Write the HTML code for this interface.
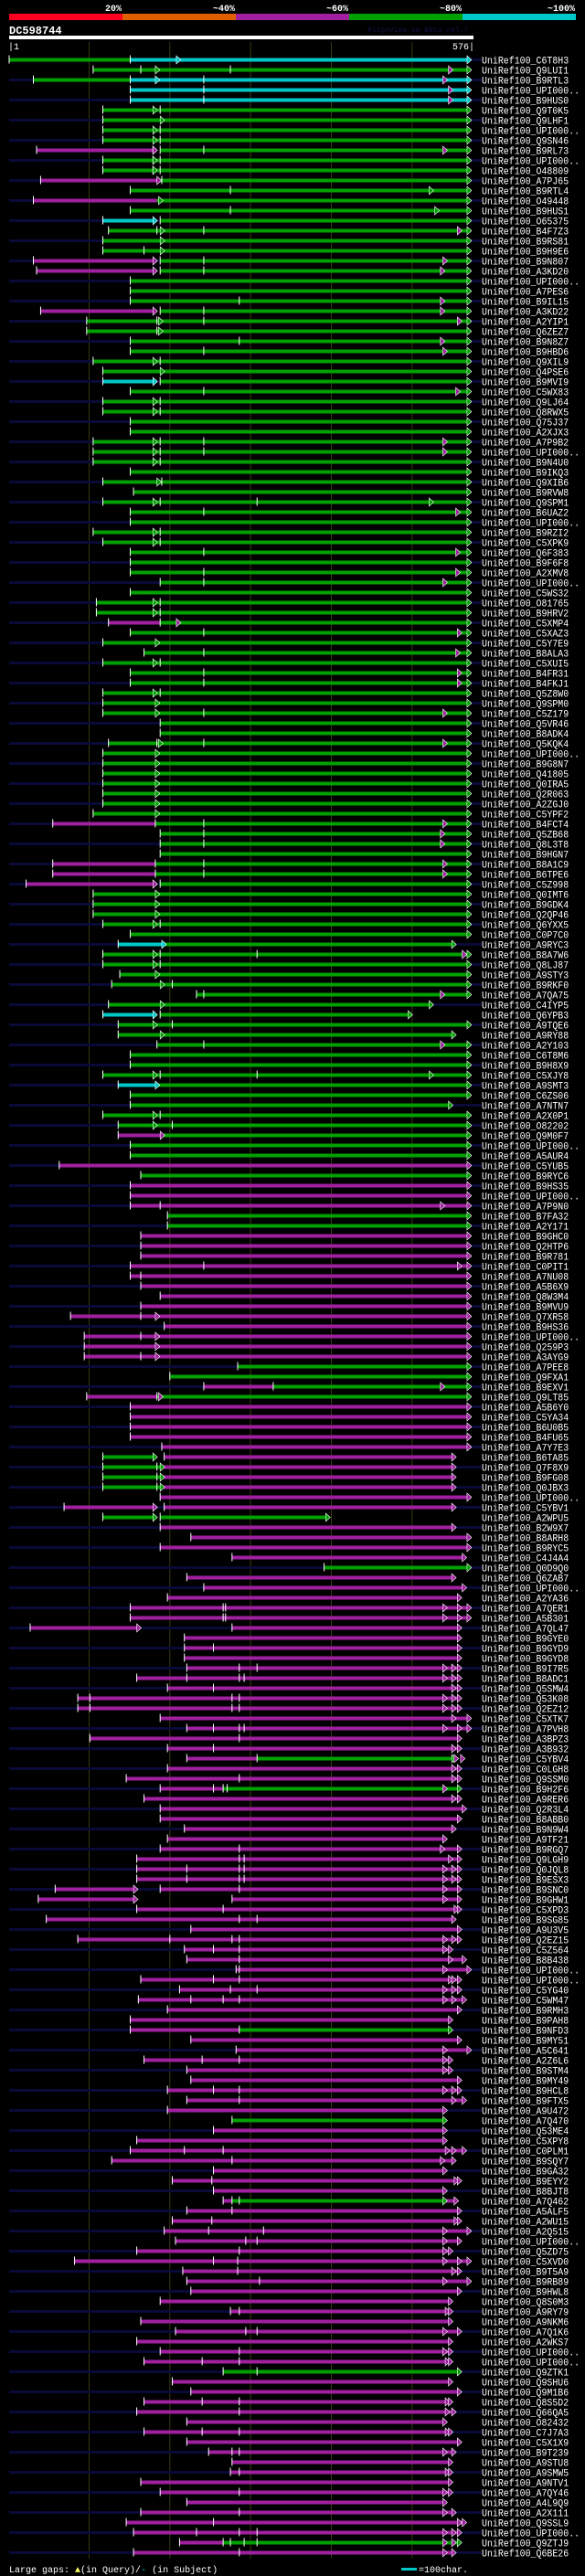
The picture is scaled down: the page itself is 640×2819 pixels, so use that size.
<!DOCTYPE html>
<html><head><meta charset="utf-8">
<style>
html,body{margin:0;padding:0;background:#000;}
svg{display:block;}
text{font-family:"Liberation Mono","DejaVu Sans Mono",monospace;}
</style></head>
<body>
<svg id="chart" width="640" height="2819" viewBox="0 0 640 2819" xmlns="http://www.w3.org/2000/svg">
<rect x="0" y="0" width="640" height="2819" fill="#000"/>
<g>
<rect x="10" y="15" width="124" height="7" fill="#ff0020"/>
<rect x="134" y="15" width="124" height="7" fill="#e06000"/>
<rect x="258" y="15" width="124" height="7" fill="#a020a0"/>
<rect x="382" y="15" width="124" height="7" fill="#00a000"/>
<rect x="506" y="15" width="124" height="7" fill="#00c8c8"/>
<text x="133" y="12" fill="#fff" font-size="10" font-weight="bold" text-anchor="end">20%</text>
<text x="257" y="12" fill="#fff" font-size="10" font-weight="bold" text-anchor="end">~40%</text>
<text x="381" y="12" fill="#fff" font-size="10" font-weight="bold" text-anchor="end">~60%</text>
<text x="505" y="12" fill="#fff" font-size="10" font-weight="bold" text-anchor="end">~80%</text>
<text x="629" y="12" fill="#fff" font-size="10" font-weight="bold" text-anchor="end">~100%</text>
</g>
<text x="10" y="37" fill="#fff" font-size="12" font-weight="bold">DC598744</text>
<text x="402" y="35" fill="#101048" font-size="8">AlignView.pm Beta rel.7</text>
<rect x="10" y="39" width="508" height="4" fill="#fff"/>
<text x="9" y="54" fill="#fff" font-size="10">|1</text>
<text x="519" y="54" fill="#fff" font-size="10" text-anchor="end">576|</text>
<g id="grid"></g>
<g id="rows"></g>
<g>
<text x="10" y="2815" fill="#fff" font-size="10">Large gaps: <tspan fill="#ffff60">▲</tspan>(in Query)/<tspan fill="#00c8c8">-</tspan> (in Subject)</text>
<rect x="439" y="2810" width="17" height="3" fill="#00c8c8"/>
<text x="458" y="2815" fill="#fff" font-size="10">=100char.</text>
</g>
</svg>
<script>
const gridTicks = [100, 200, 300, 400, 500];
const rowNames = ["C6T8H3","Q9LUI1","B9RTL3","UPI000..","B9HUS0","Q9T0K5","Q9LHF1","UPI000..","Q9SN46","B9RL73",
"UPI000..","O48809","A7PJ65","B9RTL4","O49448","B9HUS1","O65375","B4F7Z3","B9RS81","B9H9E6",
"B9N807","A3KD20","UPI000..","A7PES6","B9IL15","A3KD22","A2YIP1","Q6ZEZ7","B9N8Z7","B9HBD6",
"Q9XIL9","Q4PSE6","B9MVI9","C5WX83","Q9LJ64","Q8RWX5","Q75J37","A2XJX3","A7P9B2","UPI000..",
"B9N4U0","B9IKQ3","Q9XIB6","B9RVW8","Q9SPM1","B6UAZ2","UPI000..","B9RZI2","C5XPK9","Q6F383",
"B9F6F8","A2XMV8","UPI000..","C5WS32","O81765","B9HRV2","C5XMP4","C5XAZ3","C5Y7E9","B8ALA3",
"C5XUI5","B4FR31","B4FKJ1","Q5Z8W0","Q9SPM0","C5Z179","Q5VR46","B8ADK4","Q5KQK4","UPI000..",
"B9G8N7","Q41805","Q0IRA5","Q2R063","A2ZGJ0","C5YPF2","B4FCT4","Q5ZB68","Q8L3T8","B9HGN7",
"B8A1C9","B6TPE6","C5Z998","Q0IMT6","B9GDK4","Q2QP46","Q6YXX5","C0P7C0","A9RYC3","B8A7W6",
"Q8LJ87","A9STY3","B9RKF0","A7QA75","C4IYP5","Q6YPB3","A9TQE6","A9RY88","A2Y103","C6T8M6",
"B9H8X9","C5XJY8","A9SMT3","C6ZS06","A7NTN7","A2X0P1","O82202","Q9M0F7","UPI000..","A5AUR4",
"C5YUB5","B9RYC6","B9HS35","UPI000..","A7P9N0","B7FA32","A2Y171","B9GHC0","Q2HTP6","B9R781",
"C0PIT1","A7NU08","A5B6X9","Q8W3M4","B9MVU9","Q7XR58","B9HS36","UPI000..","Q259P3","A3AYG9",
"A7PEE8","Q9FXA1","B9EXV1","Q9LT85","A5B6Y0","C5YA34","B6U0B5","B4FU65","A7Y7E3","B6TA85",
"Q7F8X9","B9FG08","Q0JBX3","UPI000..","C5YBV1","A2WPU5","B2W9X7","B8ARH8","B9RYC5","C4J4A4",
"Q0D9Q0","Q6ZAB7","UPI000..","A2YA36","A7QER1","A5B301","A7QL47","B9GYE0","B9GYD9","B9GYD8",
"B9I7R5","B8ADC1","Q5SMW4","Q53K08","Q2EZ12","C5XTK7","A7PVH8","A3BPZ3","A3B932","C5YBV4",
"C0LGH8","Q9SSM0","B9H2F6","A9RER6","Q2R3L4","B8ABB0","B9N9W4","A9TF21","B9RGQ7","Q9LGH9",
"Q0JQL8","B9ESX3","B9SNC0","B9GHW1","C5XPD3","B9SG85","A9U3V5","Q2EZ15","C5Z564","B8B438",
"UPI000..","UPI000..","C5YG40","C5WM47","B9RMH3","B9PAH8","B9NFD3","B9MY51","A5C641","A2Z6L6",
"B9STM4","B9MY49","B9HCL8","B9FTX5","A9U472","A7Q470","Q53ME4","C5XPY8","C0PLM1","B9SQY7",
"B9GA32","B9EYY2","B8BJT8","A7Q462","A5ALF5","A2WU15","A2Q515","UPI000..","Q5ZD75","C5XVD0",
"B9T5A9","B9RB89","B9HWL8","Q8S0M3","A9RY79","A9NKM6","A7Q1K6","A2WKS7","UPI000..","UPI000..",
"Q9ZTK1","Q9SHU6","Q9M1B6","Q8S5D2","Q66QA5","O82432","C7J7A3","C5X1X9","B9T239","A9STU8",
"A9SMW5","A9NTV1","A7QY46","A4L9Q9","A2X111","Q9SSL9","UPI000..","Q9ZTJ9","Q6BE26"];
const rowSegs = ["1-151g,151-568c","105-568g","31-151g,151-568c","151-568c","151-568c","117-568g","117-568g","117-568g","117-568g","35-179m,188-568g",
"117-568g","117-568g","40-184m,184-568g","151-568g","31-184m,184-568g","151-568g","117-179c,188-568g","124-568g","117-568g","117-568g",
"31-179m,188-568g","35-179m,188-568g","151-568g","151-568g","151-568g","40-179m,188-568g","97-568g","97-568g","151-568g","151-568g",
"105-568g","117-568g","117-179c,188-568g","151-568g","117-568g","117-568g","151-568g","151-568g","105-568g","105-568g",
"105-568g","151-568g","117-568g","155-568g","117-568g","151-568g","151-568g","105-568g","117-568g","151-568g",
"151-568g","151-568g","188-568g","151-568g","109-568g","109-568g","124-188m,188-568g","151-568g","117-568g","168-568g",
"117-568g","151-568g","151-568g","117-568g","117-568g","117-568g","188-568g","188-568g","124-568g","117-568g",
"117-568g","117-568g","117-568g","117-568g","117-568g","105-568g","55-182m,182-568g","188-568g","188-568g","188-568g",
"55-182m,182-568g","55-182m,182-568g","22-179m,188-568g","105-568g","105-568g","105-568g","117-568g","151-568g","136-190c,190-549g","117-568g",
"117-568g","138-568g","128-568g","233-568g","124-521g","117-179c,188-495g","136-568g","136-549g","184-568g","151-568g",
"151-568g","117-568g","136-182c,182-568g","151-568g","151-545g","117-568g","136-568g","136-188m,188-568g","151-568g","151-568g",
"63-568m","164-568g","151-568m","151-568m","151-568m","197-568g","197-568g","164-568m","164-568m","164-568m",
"151-568m","151-568m","164-568m","188-568m","164-568m","77-568m","193-568m","94-568m","94-568m","94-568m",
"284-568g","200-568g","242-328m,328-568g","97-184m,184-568g","151-568m","151-568m","151-568m","151-568m","190-568m","117-179g,193-549m",
"117-188g,188-549m","117-188g,188-549m","117-188g,188-549m","188-568m","69-179m,193-549m","117-179g,188-393g","188-549m","226-568m","188-568m","277-562m",
"391-568g","221-549m","242-562m","197-556m","151-568m","151-568m","27-159m,277-556m","218-556m","218-556m","218-556m",
"221-556m","159-556m","197-556m","86-556m","86-556m","188-568m","221-568m","101-556m","197-556m","221-308m,308-552g",
"197-556m","146-556m","188-266m,266-556g","168-556m","188-562m","188-556m","218-549m","197-538m","188-556m","159-556m",
"159-556m","159-556m","58-155m,188-556m","37-155m,277-556m","159-556m","47-549m","226-556m","86-556m","218-545m","221-562m",
"282-568m","164-556m","212-556m","161-562m","197-556m","151-545m","151-286m,286-545g","226-556m","282-568m","168-545m",
"221-545m","226-556m","197-556m","221-562m","197-538m","277-538g","254-538m","159-538m","151-562m","128-549m",
"254-538m","203-556m","254-538m","266-277m,277-538g,538-552m","221-556m","203-556m","193-568m","207-556m","159-545m","82-568m",
"216-556m","221-568m","226-556m","188-545m","275-545m","164-545m","207-556m","159-545m","188-545m","168-545m",
"266-556g","203-545m","226-556m","168-545m","159-549m","221-538m","168-545m","221-556m","248-549m","277-545m",
"275-545m","164-545m","188-545m","221-538m","164-549m","146-562m","155-556m","212-266m,266-556g","155-549m"];
const rowArrows = ["208c,568c","182g,545m,568g","182c,538m,568c","545m,568c","545m,568c","179g,568g","188g,568g","179g,568g","179g,568g","179m,538m,568g",
"179g,568g","179g,568g","184m,568g","521g,568g","186g,568g","528g,568g","179c,568g","188g,556m,568g","188g,568g","188g,568g",
"179m,538m,568g","179m,535m,568g","568g","568g","535m,568g","179m,535m,568g","186g,556m,568g","186g,568g","535m,568g","538m,568g",
"179g,568g","188g,568g","179c,568g","554m,568g","179g,568g","179g,568g","568g","568g","179g,538m,568g","179g,538m,568g",
"179g,568g","568g","184g,568g","568g","179g,521g,568g","554m,568g","568g","179g,568g","179g,568g","554m,568g",
"568g","554m,568g","538m,568g","568g","179g,568g","179g,568g","208m,568g","556m,568g","182g,568g","554m,568g",
"179g,568g","556m,568g","556m,568g","179g,568g","182g,568g","182g,538m,568g","568g","568g","186g,538m,568g","182g,568g",
"182g,568g","182g,568g","182g,568g","182g,568g","182g,568g","182g,568g","538m,568g","535m,568g","535m,568g","568g",
"538m,568g","538m,568g","179m,568g","182g,568g","182g,568g","182g,568g","179g,568g","568g","190c,549g","179g,562m,568g",
"179g,568g","182g,568g","188g,568g","535m,568g","188g,521g","179c,495g","179g,568g","188g,549g","535m,568g","568g",
"568g","179g,521g,568g","182c,568g","568g","545g","179g,568g","179g,568g","188m,568g","568g","568g",
"568m","568g","568m","568m","535m,568m","568g","568g","568m","568m","568m",
"556m,568m","568m","568m","568m","568m","182m,568m","568m","182m,568m","182m,568m","182m,568m",
"568g","568g","535m,568g","186m,568g","568m","568m","568m","568m","568m","179g,549m",
"188g,549m","188g,549m","188g,549m","568m","179m,549m","179g,393g","549m","568m","568m","562m",
"568g","549m","562m","556m","538m,556m,568m","538m,556m,568m","159m,556m","556m","556m","556m",
"538m,549m,556m","538m,549m,556m","549m,556m","538m,549m,556m","538m,549m,556m","549m,568m","538m,556m,568m","556m","549m,556m","549g,552m,560m",
"549m,556m","549m,556m","538m,556g","549m,556m","562m","556m","549m","538m","535m,556m","545m,556m",
"538m,549m,556m","538m,549m,556m","155m,538m,556m","155m,538m,556m","552m,556m","549m","556m","538m,549m,556m","538m,545m","545m,562m",
"538m,568m","545m,549m,556m","538m,549m,556m","538m,549m,562m","556m","545m","545g","556m","538m,568m","538m,545m",
"538m,545m","556m","538m,549m,556m","549m,562m","538m","538g","538m","538m","541m,549m,562m","535m,549m",
"538m","552m,556m","538m","538g,552m","556m","552m,556m","538m,568m","538m,556m","538m,545m","538m,556m,568m",
"549m,556m","538m,568m","556m","545m","541m,545m","545m","538m,556m","545m","538m,545m","541m,545m",
"556g","545m","556m","541m,545m","541m,549m","538m","541m,545m","556m","538m,549m","545m",
"541m,545m","545m","538m,545m","538m","538m,549m","556m,562m","538m,549m,556m","538m,549m,556g","538m,549m"];
const rowTicks = ["1,151","105,164,275","31,151,242","151,242","151,242","117,188","117","117,188","117,188","35,179,188,242",
"117,179,188","117,179,188","40,190","151,275","31","151,275","117,188","124,184,242","117","117,168",
"31,188,242","35,188,242","151","151","151,286","40,188,242","97,184,242","97,184","151,286","151,242",
"105,188","117","117,188","151,242","117,188","117,188","151","151","105,188,242","105,188,242",
"105,188","151","117,190","155","117,188,308","151,242","151","105,188","117,188","151,242",
"151","151,242","188,242","151","109,188","109,188","124,188","151,242","117","168,242",
"117,188","151,242","151,242","117,188","117","117,242","188","188","124,184,242","117",
"117","117","117","117","117","105","55,182,242","188,242","188,242","188",
"55,182,242","55,182,242","22,188","105","105","105","117,188","151","136","117,188,308",
"117,188","138","128,203","233,242","124","117,188","136,203","136","184,242","151",
"151","117,188,308","136","151","151","117,188","136,203","136","151","151",
"63","164","151","151","151,188","197","197","164","164","164",
"151,242","151,164","164","188","164","77,164","193","94,164","94","94,164",
"284","200","242,328","97,184","151","151","151","151","190","117,193",
"117,184","117,184","117,184","188","69,193","117,188","188","226","188","277",
"391","221","242","197","151,266,269","151,266,269","27,277","218","218,254","218",
"221,286,308","159,221,286,292","197,254","86,101,277,286","86,101,277,286","188","221,254,286,292","101,286","197,254","221,308",
"197","146,286","188,254,266,271","168","188","188","218","197","188,286","159,286,292",
"159,221,286,292","159,221,286,292","58,188,286","37,277","159,266","47,286,308","226","86,200,277,286","218,254,286","221,286",
"282,286","164,254,286","212,275,308","161,226,266,286","197","151","151,286","226","282","168,240,286",
"221","226","197,254,286","221,286","197","277","254","159","151,218,266","128,277",
"254","203,252","254","266,277,286","221,277","203,252","193,248,316","207,294,308","159,286","82,254,284",
"216,284","221,311","226","188","275,286","164","207,294,308","159","188,286","168,240,286",
"266,308","203","226","168,240,286","159,286","221","168,240,286","221","248,277,286","277",
"275,286","164","188,286","221","164,286","146,254","155,233,286,308","212,266,275,292,308","155,286"];

const NS = "http://www.w3.org/2000/svg";
const COLORS = {g:"#00a000", c:"#00c8c8", m:"#a020a0"};
function xScale(q){ return 10 + (q - 1) * (508 / 575); }
function yRow(i){ return 65.5 + i * 11; }
function mk(tag, attrs, parent){
  const el = document.createElementNS(NS, tag);
  for (const k in attrs) el.setAttribute(k, attrs[k]);
  parent.appendChild(el);
  return el;
}
const grid = document.getElementById('grid');
gridTicks.forEach(function(q){
  const l = mk('line', {x1: xScale(q), x2: xScale(q), y1: 46, y2: 2800, stroke: '#3a3a12', 'stroke-width': 1}, grid);
  
  
});
const rowsG = document.getElementById('rows');
rowNames.forEach(function(name, i){
  const y = yRow(i);
  const g = mk('g', {}, rowsG);
  
  
  if (i % 2 === 0) {
    const bg = mk('rect', {x: 10, y: y - 1.5, width: 517, height: 3, fill: '#0a0a38'}, g);
    
    
  }
  rowSegs[i].split(',').forEach(function(s){
    const c = s.slice(-1);
    const p = s.slice(0, -1).split('-').map(Number);
    const r = mk('rect', {x: xScale(p[0]), y: y - 2, width: Math.max(1, xScale(p[1]) - xScale(p[0])), height: 4, fill: COLORS[c]}, g);
    
    
  });
  rowTicks[i].split(',').forEach(function(t){
    const x = xScale(Number(t));
    const tk = mk('rect', {x: x - 0.5, y: y - 5, width: 1, height: 9, fill: '#fff'}, g);
    
    
  });
  rowArrows[i].split(',').forEach(function(a){
    const c = a.slice(-1);
    const x = xScale(Number(a.slice(0, -1)));
    const tri = mk('polygon', {points: x + ',' + (y - 4.5) + ' ' + (x + 5) + ',' + y + ' ' + x + ',' + (y + 4.5), fill: COLORS[c], stroke: '#fff', 'stroke-width': 0.6}, g);
    
    
  });
  const label = 'UniRef100_' + name;
  const t = mk('text', {x: 527, y: y + 4, fill: '#fff', 'font-size': 11, textLength: label.length * 5.95, lengthAdjust: 'spacingAndGlyphs'}, g);
  t.textContent = label;
  
  
});
</script>
</body></html>
